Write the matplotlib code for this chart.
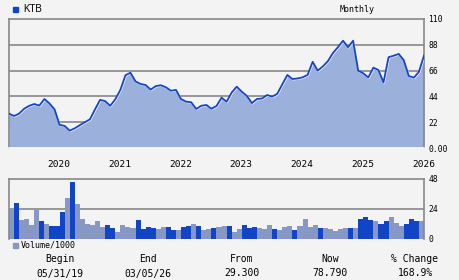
import matplotlib
matplotlib.use("Agg")
import matplotlib.pyplot as plt
import numpy as np

# ---- data ----
price = [29.3, 27.3, 29.3, 33.5, 36.0, 37.5, 36.2, 41.8, 38.0, 33.0,
         19.8, 18.8, 14.8, 16.8, 19.5, 22.0, 24.5, 33.0, 41.0, 40.0,
         36.0, 41.5, 49.5, 62.0, 64.2, 56.8, 54.6, 53.7, 49.8, 52.8,
         53.5, 51.8, 48.8, 49.5, 41.7, 39.5, 39.0, 33.3, 36.0, 36.7,
         33.5, 35.8, 42.9, 39.5, 47.3, 52.3, 48.0, 44.4, 38.3, 41.8,
         42.2, 45.2, 43.8, 46.2, 54.3, 62.3, 58.8, 59.3, 60.2, 62.3,
         73.5, 66.0, 69.5, 74.0, 81.0, 86.0, 91.5, 86.0, 91.5, 66.0,
         63.7, 60.2, 68.5, 66.5, 56.0, 77.4, 78.7, 80.2, 75.0, 61.4,
         60.0, 65.0, 78.79]

volume = [23.2, 28.8, 15.2, 16.0, 11.2, 23.2, 14.4, 12.0, 10.4, 10.4,
          21.6, 32.8, 45.6, 28.0, 16.0, 12.0, 11.2, 14.4, 9.6, 11.2,
          8.8, 5.6, 11.2, 9.6, 8.8, 15.2, 8.0, 9.6, 8.8, 8.0,
          9.6, 9.6, 7.2, 7.2, 9.6, 10.4, 12.0, 10.4, 7.2, 8.0,
          8.8, 9.6, 10.4, 10.4, 5.6, 8.0, 11.2, 8.8, 9.6, 8.8,
          8.0, 11.2, 8.0, 7.2, 9.6, 10.4, 7.2, 10.4, 16.0, 9.6,
          11.2, 8.8, 8.8, 8.0, 6.4, 8.0, 8.8, 8.8, 8.8, 16.0,
          17.6, 15.2, 14.4, 12.0, 14.4, 17.6, 12.8, 10.4, 12.0, 16.0,
          14.4, 14.4]

vol_dark = "LDLLLLDLDDDLDLLLLLLDDLLLLDDDDLLDDLDDLDLLDLLDLLDDDLLLDLLLDLLLLDLLLLLDLDDDLDDLLLDDDL"

year_labels = ["2020", "2021", "2022", "2023", "2024", "2025", "2026"]
year_pos = [7.6, 19.6, 31.6, 43.6, 55.6, 67.6, 79.6]  # months since May 2019

price_ticks = [0, 22, 44, 66, 88, 110]
price_tick_labels = ["0.00", "22", "44", "66", "88", "110"]
vol_ticks = [0, 24, 48]

info_titles = ["Begin", "End", "From", "Now", "% Change"]
info_values = ["05/31/19", "03/05/26", "29.300", "78.790", "168.9%"]

# ---- style ----
BG = "#f3f3f3"
LINE = "#1444cc"
FILL = "#9cb0dc"
DARK = "#1244c8"
LIGHT = "#8798c6"
GRID = "#888888"
MONO = "DejaVu Sans Mono"

W, H = 460, 280
fig = plt.figure(figsize=(W / 100, H / 100), dpi=100, facecolor=BG)

def ax_rect(l, t, r, b):
    return [l / W, 1 - b / H, (r - l) / W, (b - t) / H]

# ---- price axes ----
ax = fig.add_axes(ax_rect(9, 19, 424, 148))
ax.set_facecolor(BG)
x = np.arange(len(price))
for v in price_ticks[1:-1]:
    ax.axhline(v, color=GRID, lw=1.2, zorder=1)
ax.fill_between(x, price, 0, color=FILL, lw=0, zorder=2)
ax.plot(x, price, color="white", lw=1.3, zorder=3, alpha=0.8,
        transform=ax.transData + matplotlib.transforms.ScaledTranslation(0.6/100, -0.6/100, fig.dpi_scale_trans))
ax.plot(x, price, color=LINE, lw=1.3, zorder=4)
ax.set_xlim(0, len(price) - 1)
ax.set_ylim(0, 110)
ax.set_xticks([])
ax.yaxis.tick_right()
ax.set_yticks(price_ticks)
ax.set_yticklabels(price_tick_labels, fontfamily=MONO, fontsize=5.8)
ax.tick_params(axis="y", length=0, pad=3)
for s in ["top", "left", "right"]:
    ax.spines[s].set_color(GRID)
    ax.spines[s].set_linewidth(1.2)
ax.spines["bottom"].set_color("#ffffff")
ax.spines["bottom"].set_linewidth(1.2)

# ---- volume axes ----
vx = fig.add_axes(ax_rect(9, 179, 424, 239))
vx.set_facecolor(BG)
vx.axhline(24, color=GRID, lw=1.2, zorder=1)
cols = [DARK if c == "D" else LIGHT for c in vol_dark]
vx.bar(np.arange(len(volume)), volume, width=1.0, align="edge", color=cols, lw=0, zorder=2)
vx.set_xlim(0, len(volume))
vx.set_ylim(0, 48)
vx.set_xticks([])
vx.yaxis.tick_right()
vx.set_yticks(vol_ticks)
vx.set_yticklabels([str(v) for v in vol_ticks], fontfamily=MONO, fontsize=5.8)
vx.tick_params(axis="y", length=0, pad=3)
for s in ["top", "left", "right"]:
    vx.spines[s].set_color(GRID)
    vx.spines[s].set_linewidth(1.2)
vx.spines["bottom"].set_visible(False)

# year labels
for lab, p in zip(year_labels, year_pos):
    ax.text(p, -14, lab, transform=ax.transData, clip_on=False,
            ha="left", va="center", fontfamily=MONO, fontsize=6.8)

# ---- texts ----
def ftext(px, py, s, **kw):
    fig.text(px / W, 1 - py / H, s, **kw)

fig.patches.append(matplotlib.patches.Rectangle((13 / W, 1 - 11.5 / H), 4.5 / W, 4.5 / H,
                   transform=fig.transFigure, color=DARK))
ftext(23, 9.5, "KTB", fontfamily="Liberation Sans", fontsize=7, va="center", ha="left")
ftext(357, 9.5, "Monthly", fontfamily=MONO, fontsize=6, va="center", ha="center")

fig.patches.append(matplotlib.patches.Rectangle((13 / W, 1 - 247.5 / H), 4.5 / W, 4.5 / H,
                   transform=fig.transFigure, color=LIGHT))
ftext(21, 245.5, "Volume/1000", fontfamily=MONO, fontsize=6, va="center", ha="left")

info_x = [60, 148, 242, 330, 415]
for t, v, px in zip(info_titles, info_values, info_x):
    ftext(px, 259.5, t, fontfamily=MONO, fontsize=7, va="center", ha="center")
    ftext(px, 273.5, v, fontfamily=MONO, fontsize=7, va="center", ha="center")

fig.savefig("out.png", dpi=100, facecolor=BG)
